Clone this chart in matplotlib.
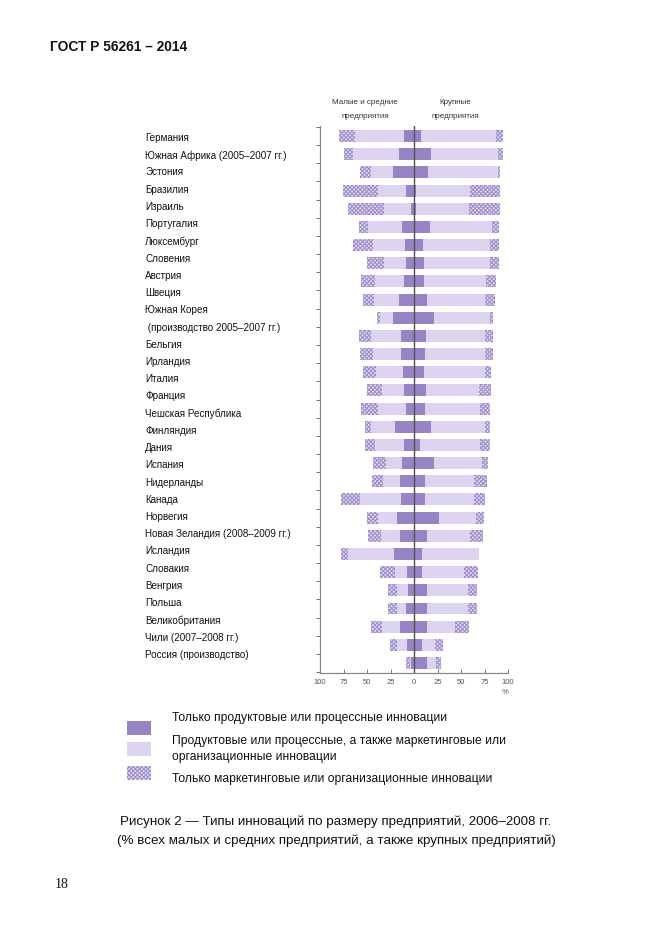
import matplotlib
matplotlib.use("Agg")
import matplotlib.pyplot as plt
import matplotlib.transforms as mtransforms
import numpy as np

plt.rcParams['font.family'] = ['Liberation Sans', 'DejaVu Sans']
plt.rcParams['hatch.linewidth'] = 0.8

countries = ["Германия", "Южная Африка (2005–2007 гг.)", "Эстония", "Бразилия",
             "Израиль", "Португалия", "Люксембург", "Словения", "Австрия", "Швеция",
             "Южная Корея\n (производство 2005–2007 гг.)", "Бельгия", "Ирландия",
             "Италия", "Франция", "Чешская Республика", "Финляндия", "Дания",
             "Испания", "Нидерланды", "Канада", "Норвегия",
             "Новая Зеландия (2008–2009 гг.)", "Исландия", "Словакия", "Венгрия",
             "Польша", "Великобритания", "Чили (2007–2008 гг.)", "Россия (производство)"]

# малые и средние предприятия, %
sme_prod = [11, 16, 22, 8, 3, 13, 10, 9, 11, 16, 22, 14, 14, 12, 11,
            9, 20, 11, 13, 15, 14, 18, 15, 21, 7, 6, 8, 15, 7, 3]
sme_both = [52, 49, 24, 30, 29, 36, 34, 23, 31, 27, 14, 32, 30, 28, 23,
            29, 26, 31, 17, 18, 43, 20, 20, 49, 13, 12, 10, 19, 11, 1]
sme_mkt = [17, 10, 11, 38, 38, 9, 21, 18, 14, 11, 3, 13, 13, 14, 16,
           18, 6, 10, 14, 12, 21, 12, 14, 8, 16, 10, 10, 12, 8, 4]

# крупные предприятия, %
big_prod = [7, 18, 15, 2, 2, 17, 10, 11, 11, 14, 21, 13, 12, 11, 13,
            12, 18, 6, 21, 12, 12, 27, 14, 9, 9, 14, 14, 14, 8, 14]
big_both = [80, 71, 74, 58, 57, 66, 71, 70, 66, 62, 60, 63, 63, 64, 56,
            58, 57, 64, 51, 52, 52, 39, 46, 60, 44, 43, 43, 30, 14, 9]
big_mkt = [8, 6, 2, 31, 32, 7, 9, 9, 10, 10, 3, 8, 9, 7, 13,
           11, 6, 11, 7, 14, 12, 8, 13, 0, 15, 10, 10, 15, 9, 6]

legend_labels = ["Только продуктовые или процессные инновации",
                 "Продуктовые или процессные, а также маркетинговые или\nорганизационные инновации",
                 "Только маркетинговые или организационные инновации"]

dark = '#9784c4'
light = '#dcd3ee'
hatch_face = '#e4ddf2'
hatch_edge = '#a08fcc'
hatch = 'xxxxxxxx'

fig = plt.figure(figsize=(6.62, 9.35), dpi=100)
ax = fig.add_axes([0.4834, 0.2802, 0.2840, 0.5850])

y = np.arange(len(countries))
h = 0.66

sp = np.array(sme_prod)
sb = np.array(sme_both)
sm = np.array(sme_mkt)
bp = np.array(big_prod)
bb = np.array(big_both)
bm = np.array(big_mkt)

# left side (negative)
ax.barh(y, -sp, height=h, color=dark, linewidth=0)
ax.barh(y, -sb, left=-sp, height=h, color=light, linewidth=0)
ax.barh(y, -sm, left=-(sp + sb), height=h, color=hatch_face,
        edgecolor=hatch_edge, hatch=hatch, linewidth=0)
# right side
ax.barh(y, bp, height=h, color=dark, linewidth=0)
ax.barh(y, bb, left=bp, height=h, color=light, linewidth=0)
ax.barh(y, bm, left=bp + bb, height=h, color=hatch_face,
        edgecolor=hatch_edge, hatch=hatch, linewidth=0)

ax.axvline(0, color='#505050', lw=1.0, zorder=5)

ax.set_xlim(-100, 100)
ax.set_ylim(len(countries) - 0.45, -0.55)
ticks = np.arange(-100, 101, 25)
ax.set_xticks(ticks)
ax.set_xticklabels([str(abs(t)) for t in ticks], fontsize=5.5, color='#555555')
ax.tick_params(axis='x', direction='in', length=3, width=0.6, color='#666666', pad=4)
ax.set_yticks(np.arange(len(countries) + 1) - 0.5)
ax.set_yticklabels([])
ax.tick_params(axis='y', direction='out', length=3, width=0.6, color='#555555')
for s in ['top', 'right']:
    ax.spines[s].set_visible(False)
for s in ['left', 'bottom']:
    ax.spines[s].set_color('#888888')
    ax.spines[s].set_linewidth(0.9)

# подписи стран (строки идут с шагом чуть меньше шага столбцов)
trans = mtransforms.blended_transform_factory(fig.transFigure, ax.transData)
lines = []
for c in countries:
    lines.extend(c.split("\n"))
for j, t in enumerate(lines):
    ax.text(145 / 662, 0.11 + 0.948 * j, t, transform=trans, fontsize=7.15,
            ha='left', va='center', color='#111111', clip_on=False)

fig.text(365 / 662, 1 - 103 / 935, "Малые и средние", fontsize=5.8, ha='center', va='center', color='#333333')
fig.text(365 / 662, 1 - 116 / 935, "предприятия", fontsize=5.8, ha='center', va='center', color='#333333')
fig.text(455 / 662, 1 - 103 / 935, "Крупные", fontsize=5.8, ha='center', va='center', color='#333333')
fig.text(455 / 662, 1 - 116 / 935, "предприятия", fontsize=5.8, ha='center', va='center', color='#333333')
fig.text(505 / 662, 1 - 692 / 935, "%", fontsize=5.5, ha='center', va='center', color='#555555')

fig.text(50 / 662, 1 - 47 / 935, "ГОСТ Р 56261 – 2014", fontsize=9.9, fontweight='bold',
         ha='left', va='center', color='#111111')

# легенда
lax = fig.add_axes([0, 0, 1, 1], zorder=-1)
lax.set_xlim(0, 662)
lax.set_ylim(935, 0)
lax.axis('off')
sw_y = [721, 742, 766]
txt_y = [718, 749, 779]
lax.bar(139, 14, width=24, bottom=sw_y[0], color=dark, linewidth=0, align='center')
lax.bar(139, 14, width=24, bottom=sw_y[1], color=light, linewidth=0, align='center')
lax.bar(139, 14, width=24, bottom=sw_y[2], color=hatch_face, edgecolor=hatch_edge,
        hatch=hatch, linewidth=0, align='center')
for ty, lab in zip(txt_y, legend_labels):
    lax.text(172, ty, lab, fontsize=8.75, ha='left', va='center', color='#111111',
             linespacing=1.45)

fig.text(336 / 662, 1 - 822 / 935,
         "Рисунок 2 — Типы инноваций по размеру предприятий, 2006–2008 гг.",
         fontsize=9.65, ha='center', va='center', color='#111111')
fig.text(336 / 662, 1 - 841 / 935,
         "(% всех малых и средних предприятий, а также крупных предприятий)",
         fontsize=9.65, ha='center', va='center', color='#111111')
fig.text(55 / 662, 1 - 885 / 935, "18", fontsize=10, family=['Liberation Serif', 'DejaVu Serif'],
         ha='left', va='center', color='#111111')

fig.savefig("out.png", dpi=100)
